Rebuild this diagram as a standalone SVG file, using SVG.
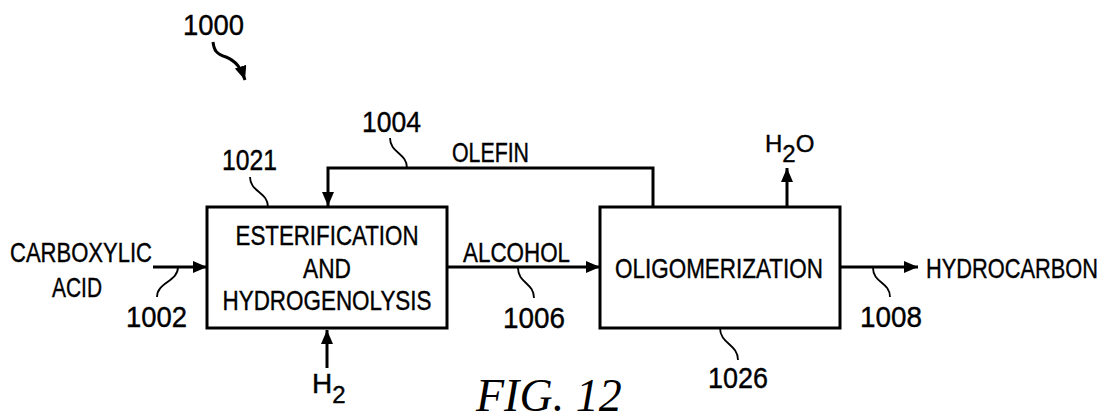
<svg xmlns="http://www.w3.org/2000/svg" width="1107" height="419" viewBox="0 0 1107 419">
<style>
.bg{fill:#fff}
.box{fill:#fff;stroke:#000;stroke-width:3}
.ln{fill:none;stroke:#000;stroke-width:3}
.ld{fill:none;stroke:#000;stroke-width:1.8}
.t{font-family:"Liberation Sans",Arial,sans-serif;font-size:28px;fill:#000;stroke:#000;stroke-width:0.4}
.n{font-family:"Liberation Sans",Arial,sans-serif;font-size:30px;fill:#000;stroke:#000;stroke-width:0.4}
.s{font-family:"Liberation Sans",Arial,sans-serif;font-size:24px;fill:#000;stroke:#000;stroke-width:0.4}
.fig{font-family:"Liberation Serif","Times New Roman",serif;font-style:italic;font-size:46px;fill:#000}
</style>
<defs>
<marker id="ah" markerUnits="userSpaceOnUse" markerWidth="16" markerHeight="14" refX="14" refY="6" orient="auto">
<path d="M0,0 L14,6 L0,12 Z" fill="#000"/>
</marker>
</defs>
<rect class="bg" x="0" y="0" width="1107" height="419"/>

<g id="connectors">
<path class="ln" d="M153,267 H207" marker-end="url(#ah)"/>
<path class="ln" d="M447,267 H600" marker-end="url(#ah)"/>
<path class="ln" d="M840,267 H918" marker-end="url(#ah)"/>
<path class="ln" d="M327,368 V330" marker-end="url(#ah)"/>
<path class="ln" d="M787,207 V168" marker-end="url(#ah)"/>
<path class="ln" d="M653,207 V168 H328 V206" marker-end="url(#ah)"/>
<path class="ln" d="M213,42 C214,50 216,54 226,57 C236,61 241,68 245,80" marker-end="url(#ah)"/>
</g>

<g id="leaders">
<path class="ld" d="M250,177 C250,192 268,192 268,207"/>
<path class="ld" d="M390,138 C390,153 407,153 407,168"/>
<path class="ld" d="M178,267 C178,282 157,282 157,297"/>
<path class="ld" d="M518,268 C518,283 534,283 534,298"/>
<path class="ld" d="M873,268 C873,283 890,282 890,297"/>
<path class="ld" d="M720,328 C720,344 738,344 738,360"/>
</g>

<g id="node-1021">
<rect class="box" x="207" y="207" width="240" height="121"/>
<text class="t" x="327" y="245" text-anchor="middle" textLength="183" lengthAdjust="spacingAndGlyphs">ESTERIFICATION</text>
<text class="t" x="327" y="278" text-anchor="middle" textLength="48" lengthAdjust="spacingAndGlyphs">AND</text>
<text class="t" x="327" y="310" text-anchor="middle" textLength="209" lengthAdjust="spacingAndGlyphs">HYDROGENOLYSIS</text>
</g>

<g id="node-1026">
<rect class="box" x="600" y="207" width="240" height="121"/>
<text class="t" x="719" y="278" text-anchor="middle" textLength="208" lengthAdjust="spacingAndGlyphs">OLIGOMERIZATION</text>
</g>

<g id="labels">
<text class="n" x="183" y="35" textLength="61" lengthAdjust="spacingAndGlyphs">1000</text>
<text class="n" x="362" y="132" textLength="59" lengthAdjust="spacingAndGlyphs">1004</text>
<text class="n" x="222" y="170" textLength="55" lengthAdjust="spacingAndGlyphs">1021</text>
<text class="n" x="126" y="327" textLength="61" lengthAdjust="spacingAndGlyphs">1002</text>
<text class="n" x="503" y="328" textLength="62" lengthAdjust="spacingAndGlyphs">1006</text>
<text class="n" x="860" y="327" textLength="62" lengthAdjust="spacingAndGlyphs">1008</text>
<text class="n" x="708" y="388" textLength="60" lengthAdjust="spacingAndGlyphs">1026</text>
<text class="t" x="10" y="262" textLength="142" lengthAdjust="spacingAndGlyphs">CARBOXYLIC</text>
<text class="t" x="52" y="297" textLength="50" lengthAdjust="spacingAndGlyphs">ACID</text>
<text class="t" x="452" y="162" textLength="77" lengthAdjust="spacingAndGlyphs">OLEFIN</text>
<text class="t" x="463" y="262" textLength="107" lengthAdjust="spacingAndGlyphs">ALCOHOL</text>
<text class="t" x="926" y="278" textLength="172" lengthAdjust="spacingAndGlyphs">HYDROCARBON</text>
<text class="s" x="765" y="152">H<tspan y="162">2</tspan><tspan y="152">O</tspan></text>
<text class="t" x="312" y="393">H<tspan class="s" y="403">2</tspan></text>
<text class="fig" x="476" y="411">FIG. 12</text>
</g>
</svg>
